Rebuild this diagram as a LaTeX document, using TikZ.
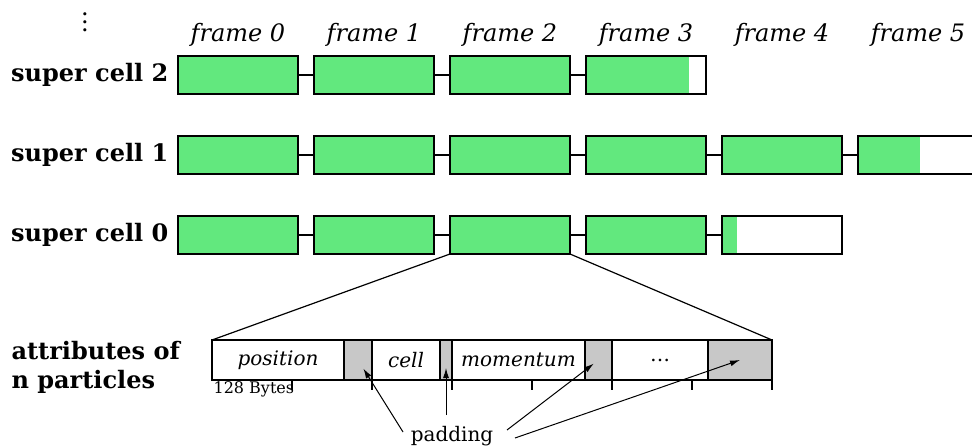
\documentclass[tikz,border=0pt,12pt]{standalone}
\usepackage{fontspec}
\setmainfont{DejaVu Serif}
\usepackage{tikz}
\usetikzlibrary{arrows.meta,positioning}

\definecolor{fillgreen}{RGB}{98,232,126}
\definecolor{padgray}{RGB}{200,200,200}

\begin{document}
\begin{tikzpicture}[x=0.5pt,y=-0.5pt,node distance=8pt,line width=0.6pt]
  \tikzstyle{frame} = [draw,rectangle,fill=fillgreen,minimum width=60pt,minimum height=19pt,inner sep=0pt,outer sep=0pt]
  \tikzstyle{partial} = [frame,fill=white,path picture={\fill[fillgreen] (path picture bounding box.south west) rectangle ([xshift=#1]path picture bounding box.north west);}]
  \tikzstyle{cell label} = [font=\bfseries,left=0.5pt of #1]
  \tikzstyle{frame label} = [font=\itshape,above=0.5pt of #1]
  \tikzstyle{attr} = [draw,rectangle,minimum height=20pt,inner sep=0pt,outer sep=0pt,font=\footnotesize\itshape]
  \tikzstyle{pad} = [attr,fill=padgray]
  \tikzstyle{pointer} = [-{Latex[length=5pt,width=3pt]},line width=0.5pt]

  \useasboundingbox (0,0) rectangle (972,448);

  % super cell 2
  \node [frame] (f20) at (238,75) {};
  \node [frame,right=of f20] (f21) {} edge (f20);
  \node [frame,right=of f21] (f22) {} edge (f21);
  \node [partial=51.5pt,right=of f22] (f23) {} edge (f22);
  \node [cell label=f20] (sc2) {super cell 2};

  % super cell 1
  \node [frame] (f10) at (238,155) {};
  \node [frame,right=of f10] (f11) {} edge (f10);
  \node [frame,right=of f11] (f12) {} edge (f11);
  \node [frame,right=of f12] (f13) {} edge (f12);
  \node [frame,right=of f13] (f14) {} edge (f13);
  \node [partial=31pt,right=of f14] (f15) {} edge (f14);
  \node [cell label=f10] (sc1) {super cell 1};

  % super cell 0
  \node [frame] (f00) at (238,235) {};
  \node [frame,right=of f00] (f01) {} edge (f00);
  \node [frame,right=of f01] (f02) {} edge (f01);
  \node [frame,right=of f02] (f03) {} edge (f02);
  \node [partial=7.5pt,right=of f03] (f04) {} edge (f03);
  \node [cell label=f00] (sc0) {super cell 0};

  \node [inner sep=0pt] (more cells) at (85,16) {$\vdots$};

  % frame numbers
  \node [frame label=f20] (l0) {frame 0};
  \node [frame label=f21] (l1) {frame 1};
  \node [frame label=f22] (l2) {frame 2};
  \node [frame label=f23] (l3) {frame 3};
  \node [font=\itshape] (l4) at (l3 -| f14) {frame 4};
  \node [font=\itshape] (l5) at (l3 -| f15) {frame 5};

  % particle attributes of one frame
  \node [attr,minimum width=66pt] (pos) at (278,360) {position};
  \node [pad,minimum width=14pt,right=0pt of pos] (pad1) {};
  \node [attr,minimum width=34pt,right=0pt of pad1] (cell) {cell};
  \node [pad,minimum width=6pt,right=0pt of cell] (pad2) {};
  \node [attr,minimum width=66.5pt,right=0pt of pad2] (mom) {momentum};
  \node [pad,minimum width=13.5pt,right=0pt of mom] (pad3) {};
  \node [attr,minimum width=48pt,right=0pt of pad3] (rest) {\textup{\dots}};
  \node [pad,minimum width=32pt,right=0pt of rest] (pad4) {};

  \foreach \i in {1,...,7}
    \draw ([xshift=\i*40pt]pos.south west) -- ++(0,10);
  \node [anchor=north west,inner sep=0.5pt,font=\scriptsize] (bytes) at (pos.south west) {128 Bytes};

  \draw (f02.south west) -- (pos.north west);
  \draw (f02.south east) -- (pad4.north east);

  \node [font=\bfseries,align=left,anchor=west] (attrs) at (3,367) {attributes of\\n particles};

  \node [font=\footnotesize] (padding) at (452,436) {padding};
  \draw [pointer,shorten >=5pt] ([shift={(-24.5pt,2pt)}]padding.center) -- (pad1.center);
  \draw [pointer,shorten >=4pt] ([shift={(-3pt,10.5pt)}]padding.center) -- (pad2.center);
  \draw [pointer,shorten >=3pt] ([shift={(27.5pt,3pt)}]padding.center) -- (pad3.center);
  \draw [pointer] ([shift={(31.5pt,-1pt)}]padding.center) -- (pad4.center);
\end{tikzpicture}
\end{document}
